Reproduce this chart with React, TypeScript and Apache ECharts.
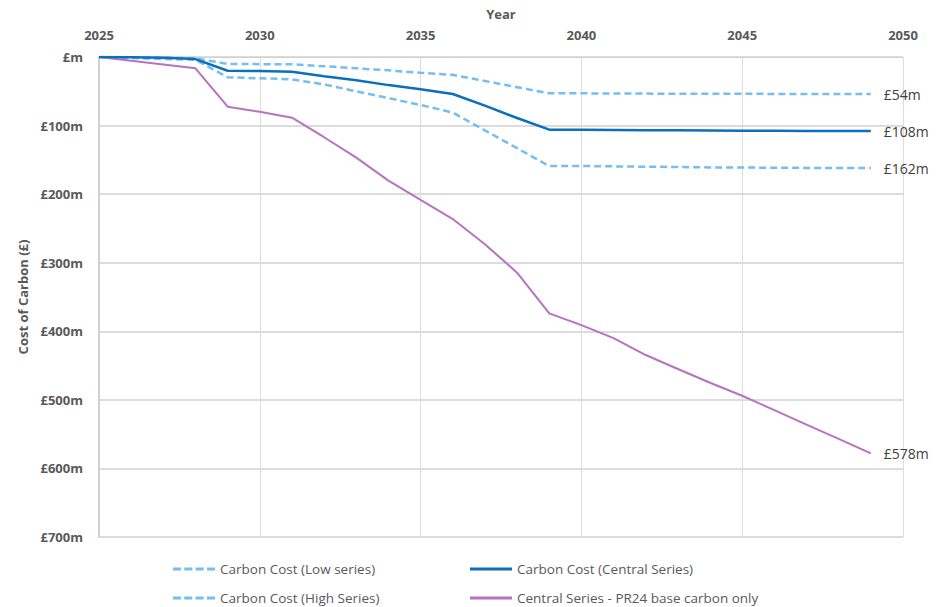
import React, { useEffect, useRef } from "react";
import * as echarts from "echarts";

const years = [2025, 2026, 2027, 2028, 2029, 2030, 2031, 2032, 2033, 2034, 2035, 2036, 2037, 2038, 2039, 2040, 2041, 2042, 2043, 2044, 2045, 2046, 2047, 2048, 2049];
const lowSeries = [0, 0.5, 1, 2, 10, 10.4, 10.6, 13.5, 16.5, 19.5, 23, 26, 35, 44, 53, 53, 53.2, 53.4, 53.5, 53.6, 53.7, 53.8, 53.9, 54, 54];
const centralSeries = [0, 0.5, 1, 3, 20, 20.5, 21.4, 28, 34, 41, 47, 54, 71, 89, 106, 106, 106.4, 106.8, 107, 107.2, 107.4, 107.6, 107.8, 108, 108];
const highSeries = [0, 1.5, 3, 4, 29.6, 31, 32.6, 40, 50, 60, 70, 81, 107, 133, 159, 159, 159.5, 160, 160.5, 161, 161.2, 161.5, 161.7, 162, 162];
const pr24Series = [0, 5.5, 11, 16.5, 72.4, 80, 88.5, 117, 146.8, 180.3, 208.5, 236.3, 273, 314.5, 373.8, 391, 410, 434.6, 455, 475, 494, 515, 536, 557, 578];

const seriesNames = [
  "Carbon Cost (Low series)",
  "Carbon Cost (Central Series)",
  "Carbon Cost (High Series)",
  "Central Series - PR24 base carbon only",
];
const endLabels = ["£54m", "£108m", "£162m", "£578m"];
const yTicks = [0, 100, 200, 300, 400, 500, 600, 700];

const LIGHT = "#77bdee";
const DARK = "#0a70bd";
const PURPLE = "#b972bf";

const DASH_ICON = "path://M0 0h8v3H0z M11.3 0h8v3h-8z M22.6 0h8v3h-8z M34 0h8v3h-8z";
const SOLID_ICON = "path://M0 0h42v3H0z";

export default function App() {
  const ref = useRef<HTMLDivElement>(null);
  useEffect(() => {
    if (!ref.current) return;
    const chart = echarts.init(ref.current, undefined, { renderer: "svg" });
    const pair = (arr: number[]) => years.map((y, i) => [y, arr[i]]);
    const mk = (idx: number, arr: number[], color: string, type: any, width: number) => ({
      name: seriesNames[idx],
      type: "line",
      data: pair(arr),
      showSymbol: false,
      symbol: "none",
      lineStyle: { color, width, type },
      itemStyle: { color },
      endLabel: {
        show: true,
        formatter: () => endLabels[idx],
        distance: 13,
        color: "#404040",
        fontSize: 14,
        fontFamily: "Open Sans",
      },
      z: idx === 1 ? 4 : 3,
    });
    const legendFont = { color: "#595959", fontSize: 13.5, fontFamily: "Open Sans" };
    const legendPos = [
      { left: 173, top: 562, icon: DASH_ICON, color: LIGHT },
      { left: 470, top: 562, icon: SOLID_ICON, color: DARK },
      { left: 173, top: 591, icon: DASH_ICON, color: LIGHT },
      { left: 470, top: 591, icon: SOLID_ICON, color: PURPLE },
    ];
    chart.setOption({
      animation: false,
      grid: { left: 99, right: 43, top: 57, bottom: 70, outerBoundsMode: "none", containLabel: false },
      legend: legendPos.map((p, i) => ({
        data: [{ name: seriesNames[i], icon: p.icon, itemStyle: { color: p.color, borderWidth: 0 } }],
        left: p.left,
        top: p.top,
        itemWidth: 42,
        itemHeight: 3,
        itemGap: 4,
        textStyle: legendFont,
        padding: 0,
      })),
      xAxis: {
        type: "value",
        position: "top",
        min: 2025,
        max: 2050,
        interval: 5,
        name: "Year",
        nameLocation: "middle",
        nameGap: 37,
        nameTextStyle: { color: "#595959", fontWeight: "bold", fontSize: 13, fontFamily: "Open Sans" },
        axisLine: { show: true, lineStyle: { color: "#d0d0d0", width: 1 } },
        axisTick: { show: false },
        axisLabel: {
          color: "#595959",
          fontWeight: "bold",
          fontSize: 13,
          fontFamily: "Open Sans",
          margin: 16,
          formatter: (v: number) => String(v),
        },
        splitLine: { show: true, lineStyle: { color: "#dcdcdc", width: 1 } },
      },
      yAxis: {
        type: "value",
        inverse: true,
        min: 0,
        max: 700,
        interval: 100,
        name: "Cost of Carbon (£)",
        nameLocation: "middle",
        nameGap: 66,
        nameRotate: 90,
        nameTextStyle: { color: "#595959", fontWeight: "bold", fontSize: 13, fontFamily: "Open Sans" },
        axisLine: { show: true, lineStyle: { color: "#d0d0d0", width: 2 } },
        axisTick: { show: false },
        axisLabel: {
          color: "#595959",
          fontWeight: "bold",
          fontSize: 13,
          fontFamily: "Open Sans",
          margin: 16,
          formatter: (v: number) => (yTicks.includes(v) ? (v === 0 ? "£m" : "£" + v + "m") : ""),
        },
        splitLine: { show: true, lineStyle: { color: "#dcdcdc", width: 2 } },
      },
      series: [
        mk(0, lowSeries, LIGHT, [7, 4], 2.5),
        mk(1, centralSeries, DARK, "solid", 2.5),
        mk(2, highSeries, LIGHT, [7, 4], 2.5),
        mk(3, pr24Series, PURPLE, "solid", 2),
      ],
    });
    return () => chart.dispose();
  }, []);
  return <div ref={ref} style={{ width: 946, height: 607, position: "absolute", left: 0, top: 0 }} />;
}
